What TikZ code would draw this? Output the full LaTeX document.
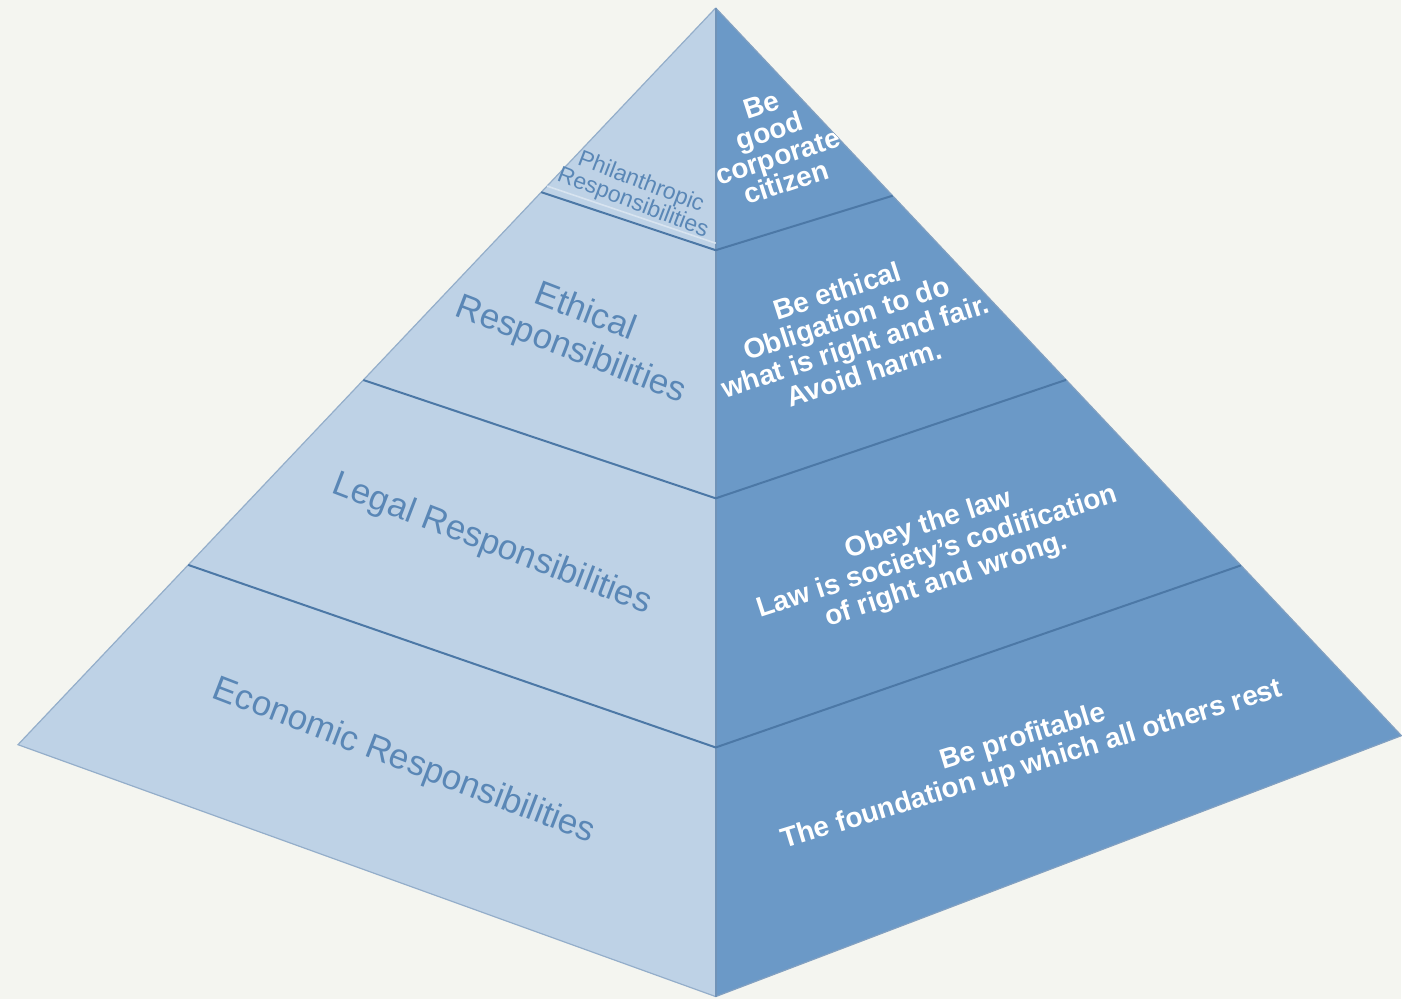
\documentclass[tikz,border=0pt]{standalone}
\usepackage{fontspec}
\setmainfont{Liberation Sans}
\usetikzlibrary{calc}
\definecolor{bgcol}{HTML}{F4F5F0}
\definecolor{leftface}{HTML}{BED2E6}
\definecolor{rightface}{HTML}{6B99C7}
\definecolor{edgecol}{HTML}{4C78A6}
\definecolor{lefttext}{HTML}{5A87B6}
\begin{document}
\begin{tikzpicture}[x=0.5pt,y=-0.5pt,
  leftlabel/.style={text=lefttext, align=center, rotate=-21, inner sep=0pt,
    font=\fontsize{17.5}{20}\selectfont},
  rightlabel/.style={text=white, align=center, rotate=18, inner sep=0pt,
    font=\bfseries\fontsize{14}{14.5}\selectfont},
  band/.style={draw=edgecol, line width=1pt}]
\fill [bgcol] (0,0) rectangle (1402,999);
\coordinate (apex) at (716,8);
\coordinate (west) at (18,745);
\coordinate (front) at (716,997);
\coordinate (east) at (1402,736);
% faces
\fill [leftface] (apex) -- (west) -- (front) -- cycle;
\fill [rightface] (apex) -- (front) -- (east) -- cycle;
\draw [edgecol!60, line width=0.6pt] (apex) -- (west) -- (front);
\draw [edgecol!70, line width=0.6pt] (apex) -- (east) -- (front);
\draw [edgecol!80, line width=0.8pt] (apex) -- (front);
% level separators
\foreach \n/\tl/\tm/\tr in {one/0.25/0.245/0.258, two/0.505/0.496/0.511, three/0.756/0.748/0.766} {
  \coordinate (l\n) at ($(apex)!\tl!(west)$);
  \coordinate (m\n) at ($(apex)!\tm!(front)$);
  \coordinate (r\n) at ($(apex)!\tr!(east)$);
  \draw [band] (l\n) -- (m\n) -- (r\n);
}
\draw [white!40!leftface, line width=0.8pt] ($(lone)+(6,-6)$) -- ($(mone)+(0,-7)$);
% left labels
\node (phil) [leftlabel, font=\fontsize{11.5}{11}\selectfont] at (637,193) {Philanthropic\\Responsibilities};
\node (ethic) [leftlabel] at (578,332) {Ethical\\Responsibilities};
\node (legal) [leftlabel] at (492,545) {Legal Responsibilities};
\node (econ) [leftlabel] at (404,762) {Economic Responsibilities};
% right labels
\begin{scope}
\clip (apex) -- (front) -- (east) -- cycle;
\node (citizen) [rightlabel, font=\bfseries\fontsize{14}{13.5}\selectfont] at (774,144) {Be\\good\\corporate\\citizen};
\node (ethical) [rightlabel] at (851,332) {Be ethical\\Obligation to do\\what is right and fair.\\Avoid harm.};
\node (law) [rightlabel] at (938,553) {Obey the law\\Law is society's codification\\of right and wrong.};
\node (profit) [rightlabel, rotate=-1] at (1028,752) {Be profitable\\The foundation up which all others rest};
\end{scope}
\end{tikzpicture}
\end{document}
